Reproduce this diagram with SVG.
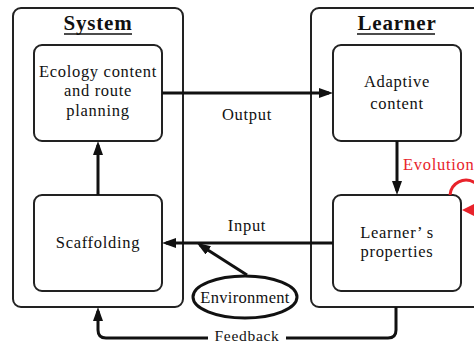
<svg xmlns="http://www.w3.org/2000/svg" width="474" height="343" viewBox="0 0 474 343">
  <defs>
    <style>
      .frame { fill: #fff; stroke: #222; stroke-width: 2; }
      .node { fill: #fff; stroke: #222; stroke-width: 2; }
      .txt { font-family: "Liberation Serif", "Times New Roman", serif; font-size: 16.5px; fill: #111; text-anchor: middle; letter-spacing: 0.7px; }
      .title { font-family: "Liberation Serif", "Times New Roman", serif; font-size: 21px; font-weight: bold; fill: #111; text-anchor: middle; letter-spacing: 0.8px; }
      .link { fill: none; stroke: #111; stroke-width: 3; }
      .red { fill: none; stroke: #e8232b; stroke-width: 3; }
      .redtxt { fill: #e8232b; text-anchor: start; }
    </style>
    <marker id="arrow" viewBox="0 0 14 10" refX="10" refY="5" markerWidth="14" markerHeight="10" markerUnits="userSpaceOnUse" orient="auto">
      <path d="M0,0 L14,5 L0,10 z" fill="#111"/>
    </marker>
  </defs>

  <rect width="474" height="343" fill="#fff"/>

  <!-- System container -->
  <g id="system">
    <rect class="frame" x="13" y="8" width="170" height="299" rx="8"/>
    <text class="title" x="98" y="30">System</text>
    <line x1="64" y1="34" x2="132" y2="34" stroke="#111" stroke-width="1.5"/>
  </g>

  <!-- Learner container -->
  <g id="learner">
    <rect class="frame" x="311" y="8" width="190" height="299" rx="8"/>
    <text class="title" x="397" y="30">Learner</text>
    <line x1="357" y1="34" x2="435" y2="34" stroke="#111" stroke-width="1.5"/>
  </g>

  <g id="ecology">
    <rect class="node" x="34" y="45" width="128" height="96" rx="8"/>
    <text class="txt" x="98" y="77">Ecology content</text>
    <text class="txt" x="98" y="96">and route</text>
    <text class="txt" x="98" y="116">planning</text>
  </g>

  <g id="scaffolding">
    <rect class="node" x="34" y="195" width="128" height="96" rx="8"/>
    <text class="txt" x="98" y="248">Scaffolding</text>
  </g>

  <g id="adaptive">
    <rect class="node" x="333" y="45" width="128" height="96" rx="8"/>
    <text class="txt" x="397" y="87">Adaptive</text>
    <text class="txt" x="397" y="109">content</text>
  </g>

  <g id="properties">
    <rect class="node" x="333" y="195" width="128" height="96" rx="8"/>
    <text class="txt" x="397" y="238">Learner’ s</text>
    <text class="txt" x="397" y="257">properties</text>
  </g>

  <g id="environment">
    <ellipse cx="245" cy="297" rx="52" ry="21" fill="#fff" stroke="#111" stroke-width="3"/>
    <text class="txt" x="245" y="303" style="letter-spacing:0.3px">Environment</text>
  </g>

  <!-- Connectors -->
  <g id="connectors">
    <line class="link" x1="162" y1="93" x2="329" y2="93" marker-end="url(#arrow)"/>
    <line class="link" x1="98" y1="195" x2="98" y2="145" marker-end="url(#arrow)"/>
    <line class="link" x1="397" y1="141" x2="397" y2="191" marker-end="url(#arrow)"/>
    <line class="link" x1="333" y1="243" x2="166" y2="243" marker-end="url(#arrow)"/>
    <line class="link" x1="247" y1="275" x2="200" y2="245" marker-end="url(#arrow)"/>
    <path class="link" d="M396,307 V330 Q396,338 388,338 H106 Q98,338 98,330 V311" marker-end="url(#arrow)"/>

    <!-- self loop on learner's properties -->
    <path class="red" d="M450,195 A16,16 0 1,1 474,210"/>
    <polygon points="462,210 474,204 474,216" fill="#e8232b"/>

    <text class="txt" x="247" y="120">Output</text>
    <text class="txt" x="247" y="231">Input</text>
    <text class="txt redtxt" x="403" y="170">Evolution</text>
    <rect x="208" y="330" width="78" height="13" fill="#fff"/>
    <text class="txt" x="247" y="341" style="font-size:15.5px">Feedback</text>
  </g>
</svg>
